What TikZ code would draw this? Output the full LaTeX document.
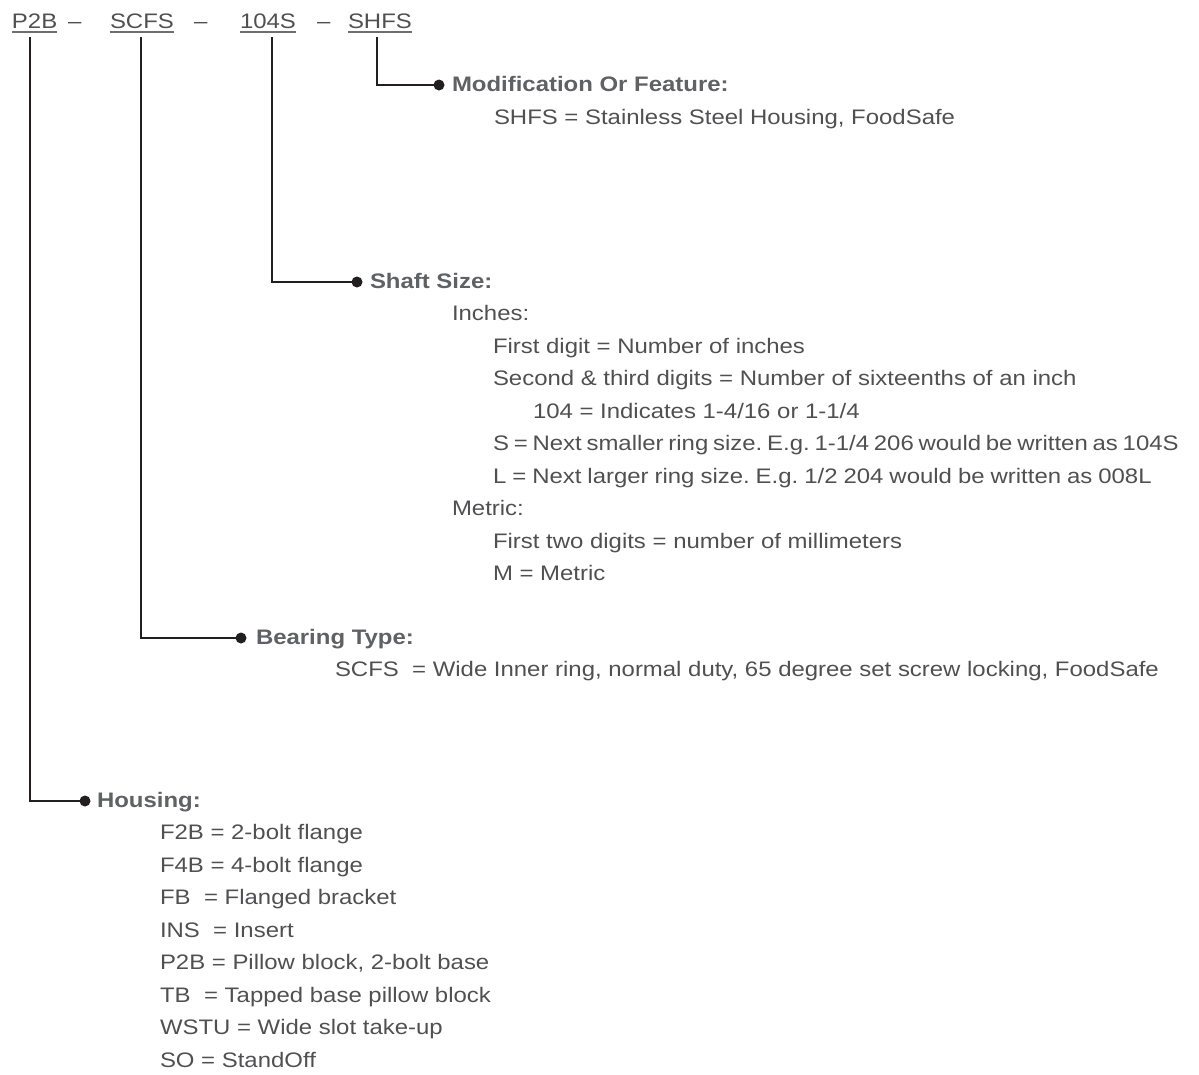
\documentclass[tikz,border=0pt]{standalone}
\usepackage{fontspec}
\setmainfont[FakeStretch=1.14]{Liberation Sans}
\definecolor{txt}{HTML}{505052}
\definecolor{headc}{HTML}{606164}
\definecolor{linec}{HTML}{231F20}
\definecolor{ulc}{HTML}{6E6E70}
\begin{document}
\frenchspacing
\begin{tikzpicture}[x=1pt,y=-1pt,
  every node/.style={inner sep=0pt, outer sep=0pt, anchor=base west,
    font=\fontsize{21}{25}\selectfont, text=txt},
  head/.style={font=\fontsize{21}{25}\selectfont\bfseries, text=headc},
  tight/.style={execute at begin node={\spaceskip=#1\fontdimen2\font}},
  conn/.style={draw=linec, line width=2.1pt},
  uline/.style={draw=ulc, line width=1.3pt},
  dotc/.style={fill=linec}]
\useasboundingbox (0,0) rectangle (1199,1074);

% top code line
\node (p2b) at (12,28) {P2B};
\node (dashA) at (68,28) {–};
\node (scfs) at (110,28) {SCFS};
\node (dashB) at (194,28) {–};
\node (n104s) at (240,28) {104S};
\node (dashC) at (317,28) {–};
\node (shfs) at (348,28) {SHFS};
\foreach \n in {p2b,scfs,n104s,shfs}
  \draw[uline] ([yshift=-4pt]\n.base west) -- ([yshift=-4pt]\n.base east);

\coordinate (top) at (0,37);

% connectors
\coordinate (k4) at (377,85);  \coordinate (b4) at (439,85);
\coordinate (k3) at (272,282); \coordinate (b3) at (357,282);
\coordinate (k2) at (141,638); \coordinate (b2) at (241,638);
\coordinate (k1) at (30,801);  \coordinate (b1) at (85,801);
\draw[conn] (top -| k4) -- (k4) -- (b4);
\draw[conn] (top -| k3) -- (k3) -- (b3);
\draw[conn] (top -| k2) -- (k2) -- (b2);
\draw[conn] (top -| k1) -- (k1) -- (b1);
\foreach \b in {b1,b2,b3,b4} \fill[dotc] (\b) circle (5.5pt);

% Modification
\node[head] (modh) at (452,91) {Modification Or Feature:};
\node (mod1) at (494,124) {SHFS = Stainless Steel Housing, FoodSafe};

% Shaft size
\node[head] (shafth) at (370,288) {Shaft Size:};
\node (sh1) at (452,320.5) {Inches:};
\node (sh2) at (493,353) {First digit = Number of inches};
\node (sh3) at (493,385.5) {Second \& third digits = Number of sixteenths of an inch};
\node (sh4) at (533,418) {104 = Indicates 1-4/16 or 1-1/4};
\node[tight=0.72] (sh5) at (493,450.5) {S = Next smaller ring size. E.g. 1-1/4 206 would be written as 104S};
\node[tight=0.9] (sh6) at (493,483) {L = Next larger ring size. E.g. 1/2 204 would be written as 008L};
\node (sh7) at (452,515.5) {Metric:};
\node (sh8) at (493,548) {First two digits = number of millimeters};
\node (sh9) at (493,580.5) {M = Metric};

% Bearing type
\node[head] (bearh) at (256,644) {Bearing Type:};
\node (bear1) at (335,676.5) {SCFS\ \ = Wide Inner ring, normal duty, 65 degree set screw locking, FoodSafe};

% Housing
\node[head] (househ) at (97,807) {Housing:};
\node (h1) at (160,839.5) {F2B = 2-bolt flange};
\node (h2) at (160,872) {F4B = 4-bolt flange};
\node (h3) at (160,904.5) {\makebox[2.1em][l]{FB}= Flanged bracket};
\node (h4) at (160,937) {INS\ \ = Insert};
\node (h5) at (160,969.5) {P2B = Pillow block, 2-bolt base};
\node (h6) at (160,1002) {\makebox[2.1em][l]{TB}= Tapped base pillow block};
\node (h7) at (160,1034.5) {WSTU = Wide slot take-up};
\node (h8) at (160,1067) {SO = StandOff};
\end{tikzpicture}
\end{document}
